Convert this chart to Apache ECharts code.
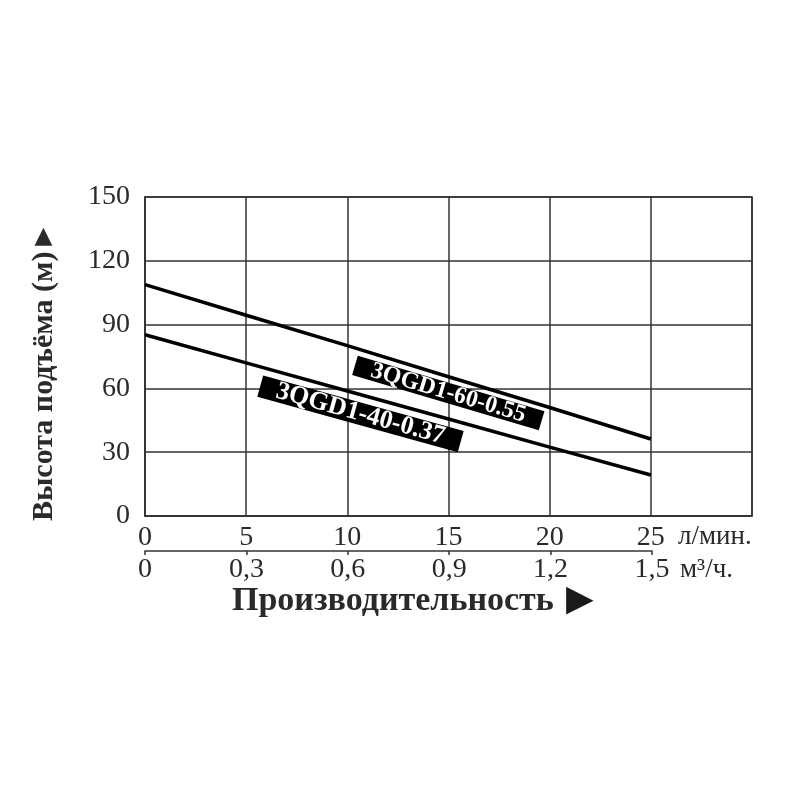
<!DOCTYPE html>
<html>
<head>
<meta charset="utf-8">
<script src="https://cdn.jsdelivr.net/npm/echarts@6/dist/echarts.min.js"></script>
<style>
  html, body { margin: 0; padding: 0; background: #fff; }
  #main { width: 800px; height: 800px; }
</style>
</head>
<body>
<div id="main"></div>
<script>
// подача, л/мин
var flowLpm = [0, 5, 10, 15, 20, 25];
// подача, м3/ч (нижняя шкала)
var flowM3h = ['0', '0,3', '0,6', '0,9', '1,2', '1,5'];
// напор, м
var head60 = [108.8, 94.4, 80.1, 65.5, 51.0, 36.2];
var head40 = [85.2, 72.0, 58.8, 45.6, 32.4, 19.3];
var yTicks = [0, 30, 60, 90, 120, 150];

var names = ['3QGD1-60-0.55', '3QGD1-40-0.37'];
// где стоят подписи моделей (в единицах осей)
var tagAt = [[14.99, 57.8], [10.65, 48.0]];

var serif = '"Liberation Serif", "DejaVu Serif", serif';

function pairs(ys) {
    var out = [];
    for (var i = 0; i < flowLpm.length; i++) {
        out.push([flowLpm[i], ys[i]]);
    }
    return out;
}

function tag(i, angle, size, lh, pad) {
    return {
        data: [{
            coord: tagAt[i],
            symbol: 'rect',
            symbolSize: 0,
            label: {
                show: true,
                position: 'inside',
                formatter: names[i],
                rotate: angle,
                color: '#fff',
                backgroundColor: '#000',
                fontFamily: serif,
                fontWeight: 'bold',
                fontSize: size,
                lineHeight: lh,
                padding: [0, pad, 0, pad]
            }
        }]
    };
}

var myChart = echarts.init(document.getElementById('main'));
var option = {
    backgroundColor: '#fff',
    animation: false,
    grid: [
        { left: 145, right: 48, top: 197, bottom: 284, show: true, borderColor: '#333', borderWidth: 1.5 },
        { left: 145, width: 507, top: 540, height: 11 }
    ],
    xAxis: [{
        gridIndex: 0,
        type: 'value',
        min: 0,
        max: 30,
        interval: 5,
        axisLine: { show: true, lineStyle: { color: '#333', width: 1.5 } },
        axisTick: { show: false },
        splitLine: { show: true, lineStyle: { color: '#333', width: 1.5 } },
        axisLabel: {
            margin: 8,
            color: '#2a2a2a',
            fontFamily: serif,
            fontSize: 28,
            formatter: function (v) { return v <= 25 ? String(v) : ''; }
        }
    }, {
        gridIndex: 1,
        type: 'value',
        min: 0,
        max: 25,
        interval: 5,
        position: 'bottom',
        axisLine: { show: true, lineStyle: { color: '#333', width: 1.5 } },
        axisTick: { show: true, length: 4, lineStyle: { color: '#333', width: 1.5 } },
        splitLine: { show: false },
        axisLabel: {
            margin: 5,
            color: '#2a2a2a',
            fontFamily: serif,
            fontSize: 28,
            formatter: function (v) { return flowM3h[v / 5]; }
        }
    }],
    yAxis: [{
        gridIndex: 0,
        type: 'value',
        min: 0,
        max: 150,
        interval: 30,
        name: 'Высота подъёма (м)►',
        nameLocation: 'middle',
        nameRotate: 90,
        nameGap: 86,
        nameTextStyle: {
            color: '#2a2a2a', fontFamily: serif, fontWeight: 'bold', fontSize: 30,
            padding: [0, 30, 0, 0]
        },
        axisLine: { show: true, lineStyle: { color: '#333', width: 1.5 } },
        axisTick: { show: false },
        splitLine: { show: true, lineStyle: { color: '#333', width: 1.5 } },
        axisLabel: {
            margin: 15,
            color: '#2a2a2a',
            fontFamily: serif,
            fontSize: 28,
            formatter: function (v) { return yTicks.indexOf(v) >= 0 ? String(v) : ''; }
        }
    }, {
        gridIndex: 1,
        type: 'value',
        show: false
    }],
    graphic: [
        { type: 'text', left: 678, top: 523, style: { text: 'л/мин.', fill: '#2a2a2a', font: '27px ' + serif } },
        { type: 'text', left: 680, top: 556, style: { text: 'м³/ч.', fill: '#2a2a2a', font: '27px ' + serif } },
        { type: 'text', left: 232, top: 584, style: { text: 'Производительность', fill: '#2a2a2a', font: 'bold 34px ' + serif } },
        { type: 'text', left: 566, top: 583, style: { text: '▶', fill: '#1a1a1a', font: '36px "DejaVu Sans", sans-serif' } }
    ],
    series: [{
        name: names[0],
        type: 'line',
        xAxisIndex: 0,
        yAxisIndex: 0,
        data: pairs(head60),
        symbol: 'none',
        lineStyle: { color: '#000', width: 3.5 },
        markPoint: tag(0, -16.5, 24, 20, 17)
    }, {
        name: names[1],
        type: 'line',
        xAxisIndex: 0,
        yAxisIndex: 0,
        data: pairs(head40),
        symbol: 'none',
        lineStyle: { color: '#000', width: 3.5 },
        markPoint: tag(1, -15.5, 26, 22, 17)
    }]
};
myChart.setOption(option);
</script>
</body>
</html>
